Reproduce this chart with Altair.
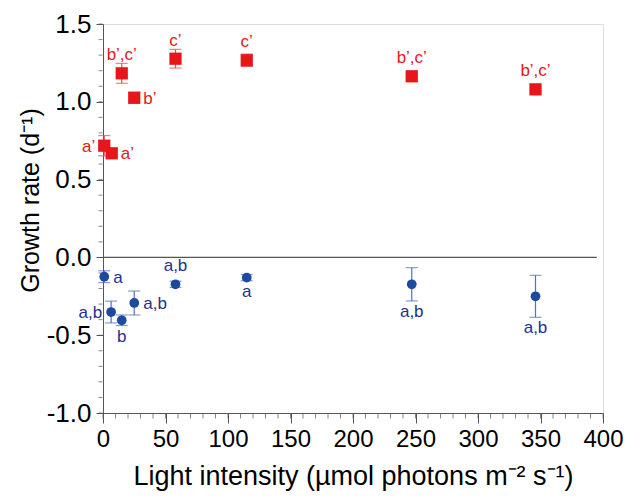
import altair as alt
import pandas as pd

# ---- data ----
light = [1, 7, 15, 25, 58, 115, 247, 346]
red_rate = [0.718, 0.669, 1.183, 1.026, 1.277, 1.267, 1.164, 1.080]
red_err = [0.065, 0.02, 0.064, 0.035, 0.06, 0.04, 0.01, 0.01]
red_labels = ["a’", "a’", "b’,c’", "b’", "c’", "c’", "b’,c’", "b’,c’"]
red_pos = ["left", "right", "above", "right", "above", "above", "above", "above"]

blue_light = [1, 6.5, 15, 25, 58, 115, 247, 346]
blue_rate = [-0.124, -0.351, -0.404, -0.293, -0.173, -0.130, -0.173, -0.250]
blue_err = [0.038, 0.07, 0.034, 0.077, 0.02, 0.02, 0.107, 0.135]
blue_labels = ["a", "a,b", "b", "a,b", "a,b", "a", "a,b", "a,b"]
blue_pos = ["right", "left", "below", "right", "above", "below", "below", "below"]

x_domain = [0, 400]
y_domain = [-1.0, 1.5]
x_major = [0, 50, 100, 150, 200, 250, 300, 350, 400]
x_minor = list(range(0, 401, 10))
y_major = [-1.0, -0.5, 0.0, 0.5, 1.0, 1.5]
y_minor = [round(-1.0 + 0.1 * i, 1) for i in range(26)]

zero_x = [0, 395]

RED = "#e8161b"
RED_BAR = "#ee4a4a"
BLUE = "#1b4a9e"
BLUE_BAR = "#4f72c0"
BLUE_TXT = "#1f2f8f"
AX = "#555555"
FONT = "Liberation Sans"

rows = []
for i in range(len(light)):
    rows.append(dict(x=light[i], y=red_rate[i], err=red_err[i], label=red_labels[i],
                     pos=red_pos[i], series="red"))
for i in range(len(blue_light)):
    rows.append(dict(x=blue_light[i], y=blue_rate[i], err=blue_err[i], label=blue_labels[i],
                     pos=blue_pos[i], series="blue"))
df = pd.DataFrame(rows)
df["lo"] = df["y"] - df["err"]
df["hi"] = df["y"] + df["err"]

zero_df = pd.DataFrame({"x": [zero_x[0]], "x2": [zero_x[1]], "y": [0.0]})
xminor_df = pd.DataFrame({"v": x_minor})
yminor_df = pd.DataFrame({"v": y_minor})

xs = alt.Scale(domain=x_domain, nice=False, zero=False)
ys = alt.Scale(domain=y_domain, nice=False, zero=False)

ylab = "datum.value < 0 ? '-' + format(-datum.value, '.1f') : format(datum.value, '.1f')"

x_axis_major = alt.Axis(values=x_major, format="d", title="Light intensity (µmol photons m⁻² s⁻¹)",
                        orient="bottom",
                        grid=False, domainColor=AX, tickColor=AX, tickSize=10, labelFontSize=24,
                        labelFont=FONT, labelColor="#000", titleFont=FONT, titleFontSize=27,
                        titleFontWeight="normal", titleColor="#000", labelPadding=4, titlePadding=12,
                        labelFlush=False)
y_axis_major = alt.Axis(values=y_major, labelExpr=ylab, title="Growth rate (d⁻¹)",
                        orient="left",
                        grid=False, domainColor=AX, tickColor=AX, tickSize=7, labelFontSize=26,
                        labelFont=FONT, labelColor="#000", titleFont=FONT, titleFontSize=25,
                        titleFontWeight="normal", titleColor="#000", labelPadding=5, titlePadding=3,
                        titleY=176, labelFlush=False)

zero = alt.Chart(zero_df).mark_rule(color=AX, strokeWidth=1.2).encode(
    x=alt.X("x:Q", scale=xs, axis=x_axis_major),
    x2="x2:Q",
    y=alt.Y("y:Q", scale=ys, axis=y_axis_major),
)

# minor ticks along the axes, positioned through the scales
xminor = alt.Chart(xminor_df).mark_tick(orient="vertical", size=5, thickness=1, color=AX).encode(
    x=alt.X("v:Q", scale=xs, axis=None),
    y=alt.datum(y_domain[0], scale=ys, axis=None),
    yOffset=alt.value(3),
)
yminor = alt.Chart(yminor_df).mark_tick(orient="horizontal", size=4, thickness=1, color=AX).encode(
    y=alt.Y("v:Q", scale=ys, axis=None),
    x=alt.datum(x_domain[0], scale=xs, axis=None),
    xOffset=alt.value(-2.5),
)

layers = [zero, xminor, yminor]
series_info = [
    ("red", "square", 150, RED, RED_BAR, RED),
    ("blue", "circle", 95, BLUE, BLUE_BAR, BLUE_TXT),
]
for name, shape, size, c_pt, c_bar, c_txt in series_info:
    b = alt.Chart(df).transform_filter(alt.datum.series == name)
    bars = b.mark_rule(strokeWidth=1.2, color=c_bar).encode(
        x=alt.X("x:Q", scale=xs, axis=None),
        y=alt.Y("lo:Q", scale=ys, axis=None),
        y2="hi:Q",
    )
    cap_lo = b.mark_tick(orient="horizontal", size=12, thickness=1.2, color=c_bar).encode(
        x=alt.X("x:Q", scale=xs, axis=None),
        y=alt.Y("lo:Q", scale=ys, axis=None),
    )
    cap_hi = b.mark_tick(orient="horizontal", size=12, thickness=1.2, color=c_bar).encode(
        x=alt.X("x:Q", scale=xs, axis=None),
        y=alt.Y("hi:Q", scale=ys, axis=None),
    )
    pts = b.mark_point(shape=shape, filled=True, size=size, opacity=1, color=c_pt).encode(
        x=alt.X("x:Q", scale=xs, axis=None),
        y=alt.Y("y:Q", scale=ys, axis=None),
    )
    layers += [bars, cap_lo, cap_hi, pts]

    def labels(pos, yfield, **kw):
        return b.transform_filter(alt.datum.pos == pos).mark_text(
            font=FONT, fontSize=17, color=c_txt, **kw).encode(
            x=alt.X("x:Q", scale=xs, axis=None),
            y=alt.Y(yfield, scale=ys, axis=None),
            text="label:N",
        )

    layers += [
        labels("right", "y:Q", align="left", baseline="middle", dx=9, dy=1),
        labels("left", "y:Q", align="right", baseline="middle", dx=-9, dy=1),
        labels("above", "y:Q", align="center", baseline="middle", dy=-18),
        labels("below", "lo:Q", align="center", baseline="top", dy=3),
    ]

chart = alt.layer(*layers).resolve_axis(x="independent", y="independent").properties(
    width=500, height=389,
    autosize=alt.AutoSizeParams(type="none"),
    padding={"left": 103, "top": 24, "right": 25, "bottom": 86},
).configure_view(stroke=None).configure(background="white")

chart.save("out.html", embed_options={"renderer": "svg", "actions": False})
